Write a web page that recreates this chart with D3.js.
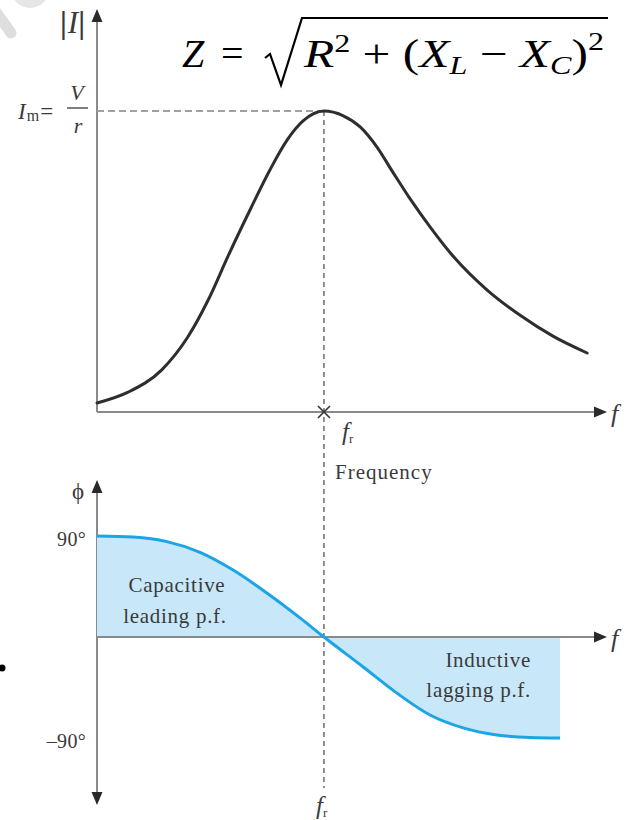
<!DOCTYPE html>
<html>
<head>
<meta charset="utf-8">
<script src="https://cdn.jsdelivr.net/npm/d3@7"></script>
<style>
  html, body { margin: 0; padding: 0; background: #fff; }
  svg { display: block; }
  text { font-family: "Liberation Serif", "Times New Roman", serif; }
</style>
</head>
<body>
<svg id="chart" width="635" height="820"></svg>
<script>
// Series resonance: normalised frequency f / f_max (resonance at fr)
const resonantFreq = 0.445;

// |I| relative to Im = V/r
const currentFreq = [0, 0.061, 0.127, 0.178, 0.218, 0.257, 0.300, 0.339, 0.373, 0.404, 0.445,
                     0.482, 0.516, 0.549, 0.580, 0.614, 0.653, 0.698, 0.765, 0.829, 0.894, 0.961];
const currentMag  = [0.030, 0.066, 0.140, 0.249, 0.372, 0.518, 0.671, 0.804, 0.904, 0.967, 1.0,
                     0.985, 0.947, 0.880, 0.797, 0.708, 0.615, 0.518, 0.405, 0.322, 0.252, 0.196];

// Phase angle (degrees) versus frequency
const phaseFreq  = [0, 0.071, 0.137, 0.202, 0.267, 0.333, 0.398, 0.445, 0.522, 0.588, 0.653, 0.718, 0.784, 0.849, 0.908];
const phaseAngle = [90, 89, 85, 75.5, 59.7, 39.2, 17, 0, -26.7, -50, -69.5, -81, -87.3, -89.5, -90];

const phaseTicks = [90, -90];
const phaseTickLabels = ["90°", "\u201390°"];

const svg = d3.select("#chart");
const axisColor = "#8a8a8a";
const textColor = "#3a3a3a";

// faint decoration in the corner
svg.append("circle").attr("cx", 30).attr("cy", -11).attr("r", 19).attr("fill", "#e6e6e6");
svg.append("line").attr("x1", -4).attr("y1", 12).attr("x2", 11).attr("y2", 33)
  .attr("stroke", "#dedede").attr("stroke-width", 11).attr("stroke-linecap", "round");
svg.append("circle").attr("cx", 2).attr("cy", 668).attr("r", 3.5).attr("fill", "#000");

// scales
const x = d3.scaleLinear().domain([0, 1]).range([97, 607]);
const yI = d3.scaleLinear().domain([0, 1]).range([412, 111]);
const yP = d3.scaleLinear().domain([-90, 90]).range([738, 536]);

function arrow(g, tipX, tipY, dir) {
  const L = 13, W = 5.5;
  let pts;
  if (dir === "up") pts = [[tipX, tipY], [tipX - W, tipY + L], [tipX + W, tipY + L]];
  else if (dir === "down") pts = [[tipX, tipY], [tipX - W, tipY - L], [tipX + W, tipY - L]];
  else pts = [[tipX, tipY], [tipX - L, tipY - W], [tipX - L, tipY + W]];
  g.append("path").attr("d", d3.line()(pts) + "Z").attr("fill", "#2a2a2a");
}

const axes = svg.append("g");

// ---- top panel: current magnitude ----
axes.append("line").attr("x1", x(0)).attr("y1", yI(0)).attr("x2", x(0)).attr("y2", 20)
  .attr("stroke", axisColor).attr("stroke-width", 2);
arrow(axes, x(0), 9, "up");
axes.append("line").attr("x1", x(0)).attr("y1", yI(0)).attr("x2", x(1) - 10).attr("y2", yI(0))
  .attr("stroke", axisColor).attr("stroke-width", 2);
arrow(axes, x(1), yI(0), "right");

// guide lines through the resonance peak
svg.append("line").attr("x1", x(0)).attr("x2", x(resonantFreq)).attr("y1", yI(1)).attr("y2", yI(1))
  .attr("stroke", "#a0a0a0").attr("stroke-width", 2).attr("stroke-dasharray", "7,4");
svg.append("line").attr("x1", x(resonantFreq)).attr("x2", x(resonantFreq)).attr("y1", yI(1)).attr("y2", 788)
  .attr("stroke", "#555").attr("stroke-width", 1.3).attr("stroke-dasharray", "5,4");

// cross marker on the frequency axis
const cx0 = x(resonantFreq), cy0 = yI(0);
svg.append("path")
  .attr("d", `M${cx0 - 6},${cy0 - 6}L${cx0 + 6},${cy0 + 6}M${cx0 + 6},${cy0 - 6}L${cx0 - 6},${cy0 + 6}`)
  .attr("stroke", "#333").attr("stroke-width", 1.6);

const currentData = currentFreq.map((f, i) => ({ f, v: currentMag[i] }));
svg.append("path").datum(currentData)
  .attr("d", d3.line().x(d => x(d.f)).y(d => yI(d.v)).curve(d3.curveMonotoneX))
  .attr("fill", "none").attr("stroke", "#2e2e2e").attr("stroke-width", 3).attr("stroke-linecap", "round");

// ---- bottom panel: phase angle ----
const phaseData = phaseFreq.map((f, i) => ({ f, v: phaseAngle[i] }));
svg.append("path").datum(phaseData)
  .attr("d", d3.area().x(d => x(d.f)).y0(yP(0)).y1(d => yP(d.v)).curve(d3.curveMonotoneX))
  .attr("fill", "#c8e8f9");

axes.append("line").attr("x1", x(0)).attr("y1", 492).attr("x2", x(0)).attr("y2", 794)
  .attr("stroke", axisColor).attr("stroke-width", 2);
arrow(axes, x(0), 480, "up");
arrow(axes, x(0), 805, "down");
svg.append("line").attr("x1", x(0)).attr("y1", yP(0)).attr("x2", x(1) - 10).attr("y2", yP(0))
  .attr("stroke", axisColor).attr("stroke-width", 2);
arrow(svg, x(1), yP(0), "right");

svg.append("path").datum(phaseData)
  .attr("d", d3.line().x(d => x(d.f)).y(d => yP(d.v)).curve(d3.curveMonotoneX))
  .attr("fill", "none").attr("stroke", "#1ba4e6").attr("stroke-width", 3);

// ---- labels ----
const lab = svg.append("g").attr("fill", textColor);

// |I|
const tI = lab.append("text").attr("x", 60).attr("y", 33).attr("font-size", 31).attr("font-weight", "bold");
tI.append("tspan").text("|");
tI.append("tspan").attr("font-style", "italic").attr("font-weight", "normal").attr("dx", 1).text("I");
tI.append("tspan").text("|");

// Im = V / r
const tIm = lab.append("text").attr("x", 18).attr("y", 119).attr("font-size", 23);
tIm.append("tspan").attr("font-style", "italic").text("I");
tIm.append("tspan").attr("font-size", 16).attr("dy", 2).attr("dx", 1).text("m");
tIm.append("tspan").attr("dy", -2).attr("dx", 1).text("=");
lab.append("text").attr("x", 77).attr("y", 100).attr("text-anchor", "middle")
  .attr("font-size", 22).attr("font-style", "italic").text("V");
lab.append("line").attr("x1", 67).attr("x2", 88).attr("y1", 108).attr("y2", 108)
  .attr("stroke", textColor).attr("stroke-width", 1.3);
lab.append("text").attr("x", 78).attr("y", 133).attr("text-anchor", "middle")
  .attr("font-size", 22).attr("font-style", "italic").text("r");

// f axis labels
lab.append("text").attr("x", 611).attr("y", 422).attr("font-size", 26).attr("font-style", "italic").text("f");
lab.append("text").attr("x", 611).attr("y", 647).attr("font-size", 26).attr("font-style", "italic").text("f");

function frLabel(px, py) {
  const t = lab.append("text").attr("x", px).attr("y", py).attr("font-size", 25).attr("font-style", "italic");
  t.append("tspan").text("f");
  t.append("tspan").attr("font-size", 13).attr("dy", 3).attr("font-style", "normal").text("r");
}
frLabel(342, 440);
frLabel(316, 814);

lab.append("text").attr("x", 335).attr("y", 479).attr("font-size", 21).attr("letter-spacing", 1).text("Frequency");

// phase axis
lab.append("text").attr("x", 72).attr("y", 499).attr("font-size", 23).text("\u03d5");
phaseTicks.forEach((v, i) => {
  lab.append("text").attr("x", 86).attr("y", yP(v) + 10).attr("text-anchor", "end")
    .attr("font-size", 20).attr("letter-spacing", 0.3).text(phaseTickLabels[i]);
});

const regionLabel = (txt, px, py, anchor) =>
  lab.append("text").attr("x", px).attr("y", py).attr("text-anchor", anchor)
    .attr("font-size", 21).attr("letter-spacing", 0.7).text(txt);
regionLabel("Capacitive", 177, 592, "middle");
regionLabel("leading p.f.", 175, 623, "middle");
regionLabel("Inductive", 531, 667, "end");
regionLabel("lagging p.f.", 531, 697, "end");

// ---- impedance formula ----
const fm = svg.append("g").attr("fill", "#000");
fm.append("text").attr("x", 182).attr("y", 67).attr("font-size", 40).attr("font-style", "italic").text("Z");
fm.append("text").attr("x", 221).attr("y", 67).attr("font-size", 40).text("=");
const inner = fm.append("text").attr("x", 304).attr("y", 67).attr("font-size", 40);
inner.append("tspan").attr("font-style", "italic").text("R");
inner.append("tspan").attr("font-size", 26).attr("dy", -15).text("2");
inner.append("tspan").attr("dy", 15).text(" + (");
inner.append("tspan").attr("font-style", "italic").text("X");
inner.append("tspan").attr("font-size", 26).attr("font-style", "italic").attr("dy", 7).text("L");
inner.append("tspan").attr("dy", -7).text(" \u2212 ");
inner.append("tspan").attr("font-style", "italic").text("X");
inner.append("tspan").attr("font-size", 26).attr("font-style", "italic").attr("dy", 7).text("C");
inner.append("tspan").attr("dy", -7).text(")");
inner.append("tspan").attr("font-size", 26).attr("dy", -17).text("2");
inner.attr("textLength", 300).attr("lengthAdjust", "spacingAndGlyphs");
// radical sign
fm.append("path")
  .attr("d", "M265,58 L270,54 L281,85 L302,18 L608,18")
  .attr("fill", "none").attr("stroke", "#000").attr("stroke-width", 2.2).attr("stroke-linejoin", "miter");
</script>
</body>
</html>
